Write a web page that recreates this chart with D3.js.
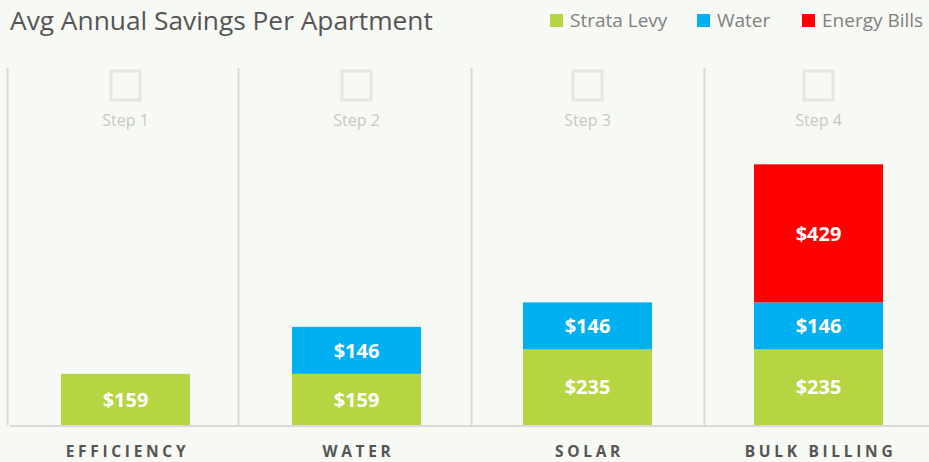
<!DOCTYPE html>
<html>
<head>
<meta charset="utf-8">
<script src="https://cdn.jsdelivr.net/npm/d3@7"></script>
<style>
  body { margin: 0; background: #f7f9f4; }
  text { font-family: "Open Sans", sans-serif; }
</style>
</head>
<body>
<div id="wrapper"></div>
<script>
const categories = ["EFFICIENCY", "WATER", "SOLAR", "BULK BILLING"]
const steps = ["Step 1", "Step 2", "Step 3", "Step 4"]
const strataLevy = [159, 159, 235, 235]
const water = [0, 146, 146, 146]
const energyBills = [0, 0, 0, 429]
const seriesNames = ["Strata Levy", "Water", "Energy Bills"]
const seriesColors = ["#b5d642", "#00b0f0", "#ff0000"]

const dms = {
  width: 929,
  height: 462,
  margin: { top: 71, right: 0, bottom: 37, left: 10 },
}
dms.boundedWidth = dms.width - dms.margin.left - dms.margin.right
dms.boundedHeight = dms.height - dms.margin.top - dms.margin.bottom

const svg = d3.select("#wrapper")
  .append("svg")
  .attr("width", dms.width)
  .attr("height", dms.height)

svg.append("rect")
  .attr("width", dms.width)
  .attr("height", dms.height)
  .attr("fill", "#f7f9f4")

const bounds = svg.append("g")
  .attr("transform", `translate(${dms.margin.left},${dms.margin.top})`)

// scales
const xScale = d3.scaleBand()
  .domain(categories)
  .range([0, 924])
  .paddingInner(0)
  .paddingOuter(0)

const barWidth = 129

const yScale = d3.scaleLinear()
  .domain([0, 1100])
  .range([dms.boundedHeight, 0])

// stacked data
const table = categories.map((c, i) => ({
  category: c,
  "Strata Levy": strataLevy[i],
  "Water": water[i],
  "Energy Bills": energyBills[i],
}))
const stacked = d3.stack().keys(seriesNames)(table)

// column divider lines
const dividers = [0, 1, 2, 3]
bounds.selectAll(".divider")
  .data(dividers)
  .join("line")
    .attr("class", "divider")
    .attr("x1", d => d === 0 ? -2.5 : xScale(categories[d]) - 4.5 + d * 2)
    .attr("x2", d => d === 0 ? -2.5 : xScale(categories[d]) - 4.5 + d * 2)
    .attr("y1", -3)
    .attr("y2", dms.boundedHeight)
    .attr("stroke", "#d9d9d9")
    .attr("stroke-width", 2)

// baseline
bounds.append("line")
  .attr("x1", 0)
  .attr("x2", dms.boundedWidth)
  .attr("y1", dms.boundedHeight + 1)
  .attr("y2", dms.boundedHeight + 1)
  .attr("stroke", "#d9d9d9")
  .attr("stroke-width", 2)

// step icons
const stepGroups = bounds.selectAll(".step")
  .data(categories)
  .join("g")
    .attr("class", "step")
    .attr("transform", d => `translate(${xScale(d) + xScale.bandwidth() / 2},0)`)

stepGroups.append("rect")
  .attr("x", -14.5)
  .attr("y", 0)
  .attr("width", 29)
  .attr("height", 29)
  .attr("fill", "none")
  .attr("stroke", "#e6e6e6")
  .attr("stroke-width", 3)

stepGroups.append("text")
  .attr("y", 55)
  .attr("text-anchor", "middle")
  .attr("fill", "#c8c8c8")
  .style("font-size", "16px")
  .text((d, i) => steps[i])

// bars
const layers = bounds.selectAll(".layer")
  .data(stacked)
  .join("g")
    .attr("class", "layer")
    .attr("fill", (d, i) => seriesColors[i])

layers.selectAll("rect")
  .data(d => d.filter(s => s[1] - s[0] > 0))
  .join("rect")
    .attr("x", d => xScale(d.data.category) + (xScale.bandwidth() - barWidth) / 2)
    .attr("y", d => yScale(d[1]))
    .attr("width", barWidth)
    .attr("height", d => yScale(d[0]) - yScale(d[1]))

layers.selectAll("text")
  .data(d => d.filter(s => s[1] - s[0] > 0))
  .join("text")
    .attr("x", d => xScale(d.data.category) + xScale.bandwidth() / 2)
    .attr("y", d => (yScale(d[0]) + yScale(d[1])) / 2)
    .attr("dy", "0.36em")
    .attr("text-anchor", "middle")
    .attr("fill", "white")
    .style("font-size", "20px")
    .style("font-weight", "bold")
    .text(d => "$" + (d[1] - d[0]))

// x axis labels
bounds.selectAll(".x-label")
  .data(categories)
  .join("text")
    .attr("class", "x-label")
    .attr("x", d => xScale(d) + xScale.bandwidth() / 2 + 2)
    .attr("y", dms.boundedHeight + 32)
    .attr("text-anchor", "middle")
    .attr("fill", "#555")
    .style("font-size", "15.5px")
    .style("font-weight", "bold")
    .style("letter-spacing", "3.7px")
    .text(d => d)

// title
svg.append("text")
  .attr("x", 10)
  .attr("y", 30)
  .attr("fill", "#555")
  .style("font-size", "26.3px")
  .text("Avg Annual Savings Per Apartment")

// legend
const legendX = [550, 697, 802]
const legend = svg.selectAll(".legend")
  .data(seriesNames)
  .join("g")
    .attr("class", "legend")
    .attr("transform", (d, i) => `translate(${legendX[i]},14)`)

legend.append("rect")
  .attr("width", 13)
  .attr("height", 13)
  .attr("fill", (d, i) => seriesColors[i])

legend.append("text")
  .attr("x", 20)
  .attr("y", 13)
  .attr("fill", "#808080")
  .style("font-size", "19px")
  .text(d => d)
</script>
</body>
</html>
